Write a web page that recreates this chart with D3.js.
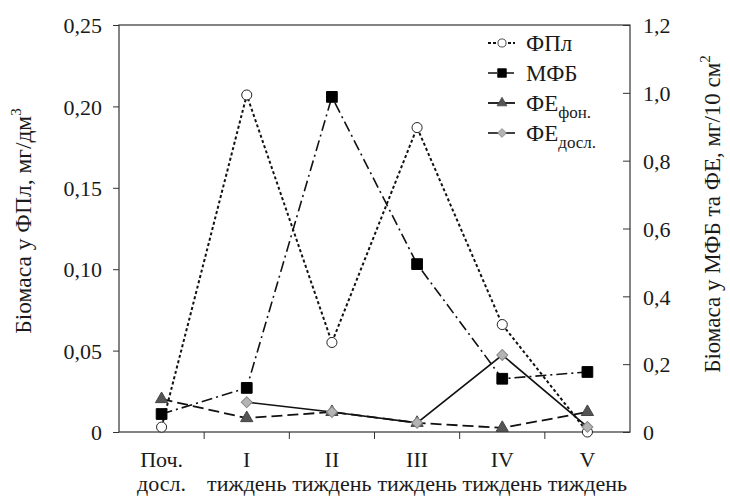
<!DOCTYPE html>
<html>
<head>
<meta charset="utf-8">
<script src="https://cdn.jsdelivr.net/npm/d3@7"></script>
<style>
  body { margin: 0; background: #fff; }
</style>
</head>
<body>
<svg id="chart" width="730" height="498"></svg>
<script>
// Data
var catLine1 = ["Поч.", "I", "II", "III", "IV", "V"],
	catLine2 = ["досл.", "тиждень", "тиждень", "тиждень", "тиждень", "тиждень"];

var fpl    = [0.003, 0.207, 0.055, 0.187, 0.066, 0.0];      // left axis
var mfb    = [0.053, 0.130, 0.988, 0.495, 0.157, 0.177];    // right axis
var feFon  = [0.097, 0.041, 0.059, 0.027, 0.012, 0.059];    // right axis
var feDosl = [null, 0.088, 0.059, 0.027, 0.227, 0.015];     // right axis

var leftTicks = [0, 0.05, 0.10, 0.15, 0.20, 0.25],
	rightTicks = [0, 0.2, 0.4, 0.6, 0.8, 1.0, 1.2];

var FONT = '"Liberation Serif"';

var margin = { top: 25, right: 100, bottom: 66, left: 119 },
	width = 730, height = 498,
	innerW = width - margin.left - margin.right,
	innerH = height - margin.top - margin.bottom;

var svg = d3.select('#chart');
var g = svg.append('g').attr('transform', 'translate(' + margin.left + ',' + margin.top + ')');

var idx = d3.range(catLine1.length);
var x = d3.scaleBand().domain(idx).range([0, innerW]).padding(0);
var cx = function(i) { return x(i) + x.bandwidth() / 2; };
var yL = d3.scaleLinear().domain([0, 0.25]).range([innerH, 0]);
var yR = d3.scaleLinear().domain([0, 1.2]).range([innerH, 0]);

var comma = function(f) { return function(d) { return d === 0 ? '0' : d3.format(f)(d).replace('.', ','); }; };
var axisColor = '#333';

// frame
g.append('rect')
	.attr('width', innerW).attr('height', innerH)
	.attr('fill', 'none').attr('stroke', axisColor).attr('stroke-width', 1.2);

// left axis
var la = g.append('g').call(d3.axisLeft(yL).tickValues(leftTicks).tickSize(6).tickFormat(comma('.2f')));
la.select('.domain').remove();
la.selectAll('line').attr('stroke', axisColor);
la.selectAll('text').attr('x', -17).attr('dy', '0.35em').attr('fill', '#1a1a1a')
	.style('font-family', FONT).style('font-size', '22px');

// right axis (inward ticks)
var ra = g.append('g').attr('transform', 'translate(' + innerW + ',0)')
	.call(d3.axisRight(yR).tickValues(rightTicks).tickSize(-7).tickFormat(comma('.1f')));
ra.select('.domain').remove();
ra.selectAll('line').attr('stroke', axisColor);
ra.selectAll('text').attr('x', 13).attr('dy', '0.35em').attr('fill', '#1a1a1a')
	.style('font-family', FONT).style('font-size', '22px');

// bottom ticks at band boundaries
g.selectAll('.xtick').data(idx.slice(1)).enter().append('line')
	.attr('class', 'xtick')
	.attr('x1', function(i) { return x(i); }).attr('x2', function(i) { return x(i); })
	.attr('y1', innerH).attr('y2', innerH + 7)
	.attr('stroke', axisColor);

var xl = g.selectAll('.xlab').data(idx).enter().append('text')
	.attr('class', 'xlab')
	.attr('text-anchor', 'middle')
	.attr('fill', '#1a1a1a')
	.style('font-family', FONT).style('font-size', '22px');
xl.append('tspan').attr('x', cx).attr('y', innerH + 35).text(function(i) { return catLine1[i]; });
xl.append('tspan').attr('x', cx).attr('y', innerH + 59).text(function(i) { return catLine2[i]; });

// axis titles
var lt = svg.append('text')
	.attr('transform', 'translate(31,221) rotate(-90)')
	.attr('text-anchor', 'middle').attr('fill', '#1a1a1a')
	.style('font-family', FONT).style('font-size', '23.5px');
lt.append('tspan').text('Біомаса у ФПл, мг/дм');
lt.append('tspan').style('font-size', '15px').attr('dy', -10).text('3');

var rt = svg.append('text')
	.attr('transform', 'translate(720,214) rotate(-90)')
	.attr('text-anchor', 'middle').attr('fill', '#1a1a1a')
	.style('font-family', FONT).style('font-size', '23px');
rt.append('tspan').text('Біомаса у МФБ та ФЕ, мг/10 см');
rt.append('tspan').style('font-size', '15px').attr('dy', -10).text('2');

// series
var series = [
	{ name: 'fpl', values: fpl, y: yL, dash: '3,2.5', legDash: '3,2', width: 2, marker: 'circle', fill: '#fff', stroke: '#222' },
	{ name: 'mfb', values: mfb, y: yR, dash: '11,4,2,4', legDash: '9,3,2,3', width: 1.6, marker: 'square', fill: '#000', stroke: '#000' },
	{ name: 'feFon', values: feFon, y: yR, dash: '11,5', legDash: null, width: 1.8, marker: 'triangle', fill: '#555', stroke: '#444' },
	{ name: 'feDosl', values: feDosl, y: yR, dash: null, legDash: null, width: 1.6, marker: 'diamond', fill: '#b4b4b4', stroke: '#888' }
];

var symbols = {
	circle: d3.symbol().type(d3.symbolCircle).size(80),
	square: d3.symbol().type(d3.symbolSquare).size(115),
	triangle: d3.symbol().type(d3.symbolTriangle).size(65),
	diamond: d3.symbol().type(d3.symbolSquare).size(60)
};
var rot = function(m) { return m === 'diamond' ? ' rotate(45)' : ''; };

series.forEach(function(s) {
	var line = d3.line()
		.defined(function(d) { return d != null; })
		.x(function(d, i) { return cx(i); })
		.y(function(d) { return s.y(d); });
	g.append('path')
		.datum(s.values)
		.attr('d', line)
		.attr('fill', 'none')
		.attr('stroke', '#111')
		.attr('stroke-width', s.width)
		.attr('stroke-dasharray', s.dash);
});

series.forEach(function(s) {
	g.selectAll('.pt-' + s.name)
		.data(s.values.map(function(v, i) { return { v: v, i: i }; }).filter(function(d) { return d.v != null; }))
		.enter().append('path')
		.attr('class', 'pt-' + s.name)
		.attr('transform', function(d) { return 'translate(' + cx(d.i) + ',' + s.y(d.v) + ')' + rot(s.marker); })
		.attr('d', symbols[s.marker])
		.attr('fill', s.fill)
		.attr('stroke', s.stroke)
		.attr('stroke-width', 1);
});

// legend
var legend = [
	{ s: series[0], label: 'ФПл', sub: '' },
	{ s: series[1], label: 'МФБ', sub: '' },
	{ s: series[2], label: 'ФЕ', sub: 'фон.' },
	{ s: series[3], label: 'ФЕ', sub: 'досл.' }
];
var lg = svg.append('g').attr('transform', 'translate(488,43)');
legend.forEach(function(d, i) {
	var row = lg.append('g').attr('transform', 'translate(0,' + (i * 30) + ')');
	row.append('line')
		.attr('x1', 0).attr('x2', 27).attr('y1', 0).attr('y2', 0)
		.attr('stroke', '#111').attr('stroke-width', d.s.width)
		.attr('stroke-dasharray', d.s.legDash);
	row.append('path')
		.attr('transform', 'translate(14,0) scale(0.8)' + rot(d.s.marker))
		.attr('d', symbols[d.s.marker])
		.attr('fill', d.s.fill).attr('stroke', d.s.stroke);
	var t = row.append('text').attr('x', 38).attr('y', 8).attr('fill', '#1a1a1a')
		.style('font-family', FONT).style('font-size', '23px');
	t.append('tspan').text(d.label);
	if (d.sub) t.append('tspan').style('font-size', '17px').attr('dy', 7).text(d.sub);
});
</script>
</body>
</html>
